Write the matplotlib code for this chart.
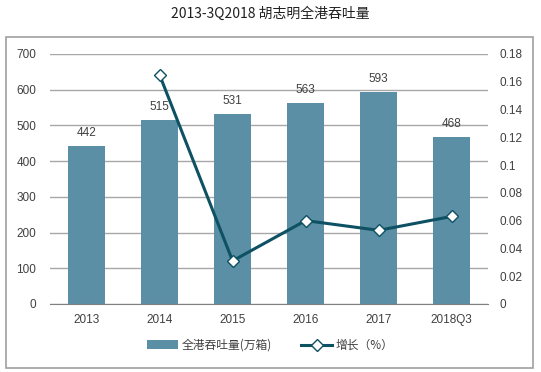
import matplotlib
matplotlib.use("Agg")
import matplotlib.pyplot as plt
from matplotlib.patches import Rectangle
from matplotlib.ticker import FuncFormatter

plt.rcParams['font.family'] = ['Liberation Sans', 'Noto Sans CJK SC', 'DejaVu Sans']

years = ['2013', '2014', '2015', '2016', '2017', '2018Q3']
throughput = [442, 515, 531, 563, 593, 468]
# growth, first year has no value
growth_years = ['2014', '2015', '2016', '2017', '2018Q3']
growth = [0.165, 0.031, 0.060, 0.053, 0.063]

bar_color = '#5b8fa6'
line_color = '#0d5163'
text_color = '#404040'

fig = plt.figure(figsize=(5.41, 3.72), dpi=100)
fig.patch.set_facecolor('white')

# grey frame round the chart
fig.patches.append(Rectangle((0.011, 0.011), 0.974, 0.89, transform=fig.transFigure,
                             fill=False, edgecolor='#a0a0a0', linewidth=1.2))

fig.text(0.5, 0.962, '2013-3Q2018 胡志明全港吞吐量', ha='center', va='center',
         fontsize=10, color='#202020', family=['Noto Sans CJK SC', 'DejaVu Sans'])

ax1 = fig.add_axes([0.0924, 0.183, 0.810, 0.672])
x = list(range(len(years)))
bars = ax1.bar(x, throughput, width=0.5, color=bar_color, zorder=2, label='全港吞吐量(万箱)')
for xi, v in zip(x, throughput):
    ax1.annotate(str(v), (xi, v), xytext=(0, 5), textcoords='offset points',
                 ha='center', va='bottom', fontsize=8.5, color=text_color)

ax1.set_xlim(-0.5, len(years) - 0.5)
ax1.set_ylim(0, 700)
ax1.set_yticks(range(0, 701, 100))
ax1.set_xticks(x)
ax1.set_xticklabels(years)
ax1.yaxis.grid(True, color='#a8a8a8', linewidth=1, zorder=0)
ax1.set_axisbelow(True)
for s in ['top', 'left', 'right']:
    ax1.spines[s].set_visible(False)
ax1.spines['bottom'].set_color('#808080')
ax1.tick_params(axis='both', length=0, labelsize=8.5, labelcolor=text_color)
ax1.tick_params(axis='x', pad=7)
ax1.tick_params(axis='y', pad=10)

ax2 = ax1.twinx()
gx = [years.index(y) for y in growth_years]
line, = ax2.plot(gx, growth, color=line_color, linewidth=2.2, marker='D', markersize=6.5,
                 markerfacecolor='white', markeredgecolor=line_color, markeredgewidth=1,
                 label='增长（%）', zorder=3)
ax2.set_ylim(0, 0.18)
ax2.set_yticks([i * 0.02 for i in range(10)])
ax2.yaxis.set_major_formatter(FuncFormatter(lambda v, p: '{:g}'.format(round(v, 2))))
for s in ['top', 'left', 'right', 'bottom']:
    ax2.spines[s].set_visible(False)
ax2.tick_params(axis='y', length=0, labelsize=8.5, labelcolor=text_color, pad=8)

leg = fig.legend([bars, line], ['全港吞吐量(万箱)', '增长（%）'], loc='center',
                 bbox_to_anchor=(0.5, 0.072), ncol=2, frameon=False, fontsize=8.5,
                 handlelength=2.6, columnspacing=2.5, handletextpad=0.3,
                 prop={'family': ['Noto Sans CJK SC', 'DejaVu Sans'], 'size': 8.5})
for t in leg.get_texts():
    t.set_color(text_color)

fig.savefig('out.png', dpi=100)
